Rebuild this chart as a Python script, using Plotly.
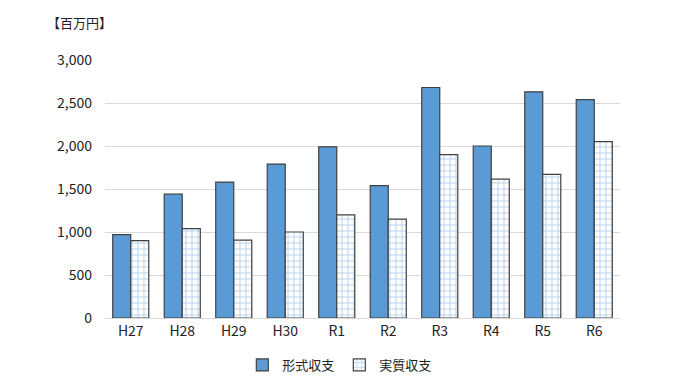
import plotly.graph_objects as go

categories = ["H27", "H28", "H29", "H30", "R1", "R2", "R3", "R4", "R5", "R6"]
formal = [970, 1440, 1580, 1790, 1990, 1540, 2680, 2000, 2630, 2540]
real = [900, 1040, 905, 1000, 1200, 1150, 1900, 1615, 1670, 2050]
y_ticks = [0, 500, 1000, 1500, 2000, 2500, 3000]
y_labels = ["0", "500", "1,000", "1,500", "2,000", "2,500", "3,000"]

font = "Noto Sans CJK JP"

fig = go.Figure()
fig.add_trace(go.Bar(
    x=categories, y=formal, name="形式収支",
    marker=dict(color="#5b9bd5", line=dict(color="#404040", width=1.2)),
))
fig.add_trace(go.Bar(
    x=categories, y=real, name="実質収支",
    marker=dict(color="white", line=dict(color="#404040", width=1.2),
                pattern=dict(shape="+", fgcolor="#6fa8dc", bgcolor="white", size=6, solidity=0.3)),
))

fig.update_layout(
    width=670, height=371,
    margin=dict(l=97, r=58, t=52, b=61, autoexpand=False),
    paper_bgcolor="white", plot_bgcolor="white",
    barmode="group", bargap=0.3, bargroupgap=0,
    font=dict(family=font, size=14, color="#222222"),
    showlegend=True,
    legend=dict(orientation="h", x=0.455, xanchor="center", y=-0.182, yanchor="middle",
                font=dict(size=13), itemwidth=30, entrywidth=52, entrywidthmode="pixels",
                traceorder="normal", tracegroupgap=0),
    xaxis=dict(showline=True, linecolor="#d9d9d9", ticks="", tickfont=dict(size=14)),
    yaxis=dict(range=[0, 3000], tickvals=y_ticks, ticktext=y_labels,
               showgrid=True, gridcolor="#d9d9d9", gridwidth=1, zeroline=False,
               ticks="", ticklabelstandoff=12, tickfont=dict(size=14)),
    annotations=[dict(text="【百万円】", xref="paper", yref="paper", x=-0.05, y=1.10,
                      xanchor="center", yanchor="bottom", showarrow=False,
                      font=dict(size=13, family=font))],
)

fig.write_html("out.html")
